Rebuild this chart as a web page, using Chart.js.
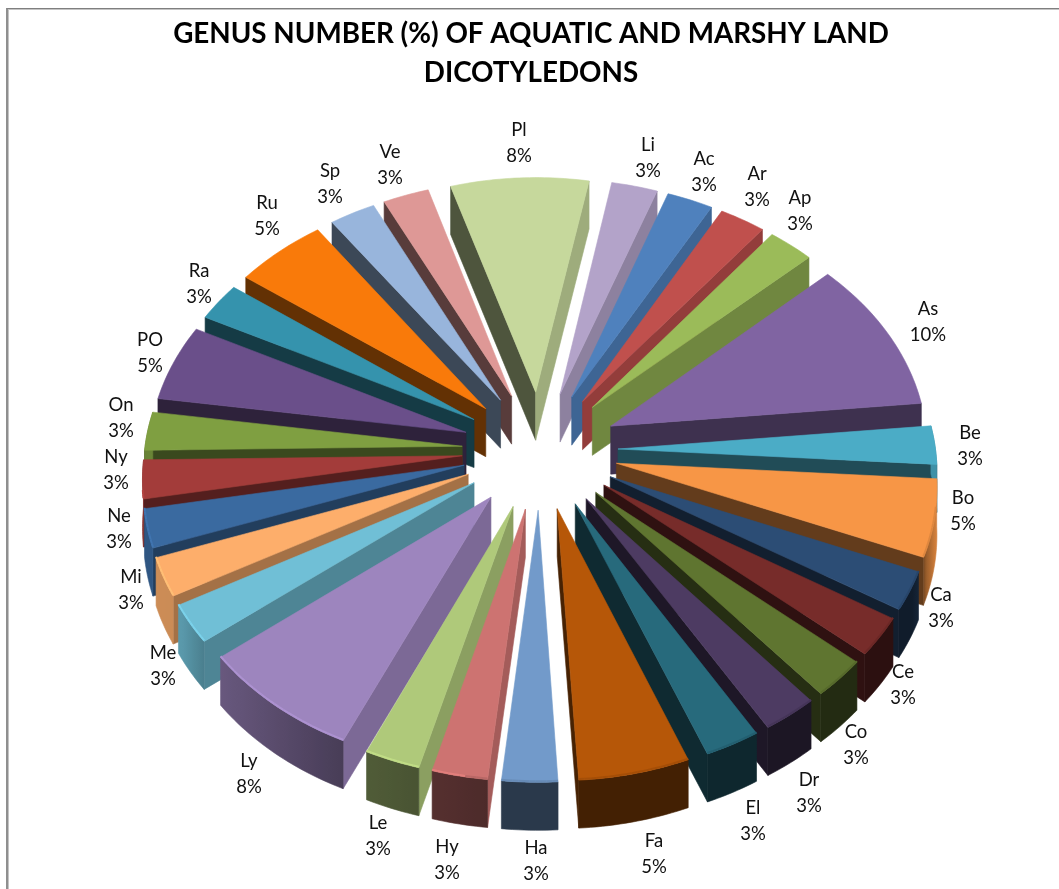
<!DOCTYPE html>
<html><head><meta charset="utf-8">
<style>
html,body{margin:0;padding:0;background:#fff;overflow:hidden}
#wrap{position:relative;width:1059px;height:889px}
canvas{position:absolute;left:0;top:0}
#ft{position:absolute;left:6px;top:8px;width:1053px;height:881px;box-sizing:border-box;border-top:1px solid #7f7f7f;border-left:2px solid #8f8f8f;box-shadow:inset 1px 1px 0 #c4c4c4;pointer-events:none}
</style>
<script src="https://cdn.jsdelivr.net/npm/chart.js@4"></script>
</head><body><div id="wrap"><canvas id="c" width="1059" height="889"></canvas><div id="ft"></div></div>
<script>
const titleLines = ['GENUS NUMBER (%) OF AQUATIC AND MARSHY LAND', 'DICOTYLEDONS'];
const categories = ['As','Be','Bo','Ca','Ce','Co','Dr','El','Fa','Ha','Hy','Le','Ly','Me','Mi','Ne','Ny','On','PO','Ra','Ru','Sp','Ve','Pl','Li','Ac','Ar','Ap'];
const genusCounts = [4,1,2,1,1,1,1,1,2,1,1,1,3,1,1,1,1,1,2,1,2,1,1,3,1,1,1,1];
const sliceColors = ['#8064A2','#4BACC6','#F79646','#2C4D75','#772C2A','#5F7530','#4D3B62','#276A7C','#B65708','#729ACA','#CD7371','#AFC97A','#9D85BE','#70BFD6','#FDAE6B','#3A6AA0','#A33C3A','#7F9F41','#6A4F8A','#3593AD','#F97A0A','#98B5DC','#DE9896','#C6D89C','#B3A3C9','#4F81BD','#C0504D','#9BBB59'];
// label centres relative to the pie centre (text layout only)
const labelOffsets = [[388,-128],[430,-4],[423,61],[401,158],[363,235],[316,295],[269,343],[213,371],[114,404],[-4,411],[-93,410],[-162,386],[-291,324],[-377,216],[-409,140],[-421,79],[-424,20],[-419,-32],[-390,-97],[-341,-166],[-273,-234],[-210,-266],[-150,-285],[-21,-307],[108,-292],[164,-278],[217,-263],[260,-239]];

const CX = 540, CY = 450, TILT = 0.757, KX = 0.00025, KY = 0.00025, DEPTH = 48;
function project(X, Y, z) {
  return [CX + X / (1 + KX * Y), CY - Y * TILT / (1 + KY * Y) + z];
}
function rgb(hex){ return [1,3,5].map(i => parseInt(hex.substr(i,2),16)); }
function shade(hex, f){ return 'rgb(' + rgb(hex).map(v => Math.round(Math.min(255, v * f))).join(',') + ')'; }
function lerpTable(tbl, a){
  a = ((a % 360) + 360) % 360;
  for (let i = 0; i < tbl.length - 1; i++) {
    if (a >= tbl[i][0] && a <= tbl[i+1][0]) {
      const t = (a - tbl[i][0]) / ((tbl[i+1][0] - tbl[i][0]) || 1);
      return tbl[i][1] + t * (tbl[i+1][1] - tbl[i][1]);
    }
  }
  return 0.4;
}
const wallLight = [[0,.4],[88,.4],[95,.8],[125,.78],[150,.66],[165,.55],[180,.45],[200,.4],[360,.38]];
const rimLight = [[0,.75],[95,.85],[108,.62],[115,.37],[185,.37],[205,.46],[232,.66],[240,.8],[300,.85],[360,.8]];
function poly(ctx, pts, fill){
  ctx.beginPath();
  pts.forEach((q,i) => i ? ctx.lineTo(q[0],q[1]) : ctx.moveTo(q[0],q[1]));
  ctx.closePath();
  ctx.fillStyle = fill; ctx.strokeStyle = fill; ctx.lineWidth = 0.6;
  ctx.fill(); ctx.stroke();
}
const pie3d = {
  id: 'pie3d',
  beforeDatasetsDraw(chart) {
    const ctx = chart.ctx, meta = chart.getDatasetMeta(0);
    const items = meta.data.map((arc, i) => {
      const a0 = arc.startAngle + Math.PI/2, a1 = arc.endAngle + Math.PI/2;
      return {arc, i, a0, a1, mid: (a0 + a1)/2};
    }).sort((p, q) => Math.cos(q.mid) - Math.cos(p.mid));
    ctx.save();
    for (const it of items) {
      const {arc, i, a0, a1, mid} = it;
      const col = sliceColors[i], R = arc.outerRadius, off = arc.options.offset;
      const ox = off * Math.sin(mid), oy = off * Math.cos(mid);
      const pt = (a, z) => project(ox + R * Math.sin(a), oy + R * Math.cos(a), z);
      const apex = z => project(ox, oy, z);
      const d0 = a0 * 180/Math.PI, d1 = a1 * 180/Math.PI;
      const n = Math.max(4, Math.ceil(d1 - d0));
      // radial walls: only those turned towards the viewer
      if (Math.cos(a0 - Math.PI/2) < 0.03) poly(ctx, [apex(0), pt(a0,0), pt(a0,DEPTH), apex(DEPTH)], shade(col, lerpTable(wallLight, d0 - 90)));
      if (Math.cos(a1 + Math.PI/2) < 0.03) poly(ctx, [apex(0), pt(a1,0), pt(a1,DEPTH), apex(DEPTH)], shade(col, lerpTable(wallLight, d1 + 90)));
      // outer rim with a smooth shading gradient
      if (Math.cos(mid) < 0.3) {
        const rimTop = [], rimBot = [];
        for (let k = 0; k <= n; k++) {
          const b = a0 + (a1 - a0) * k / n;
          rimTop.push(pt(b, 0)); rimBot.unshift(pt(b, DEPTH));
        }
        const x0 = rimTop[0][0], x1 = rimTop[n][0];
        const g = ctx.createLinearGradient(x0, 0, x1 === x0 ? x0 + 1 : x1, 0);
        for (let k = 0; k <= n; k++) {
          g.addColorStop(k / n, shade(col, lerpTable(rimLight, d0 + (d1 - d0) * k / n)));
        }
        poly(ctx, rimTop.concat(rimBot), g);
      }
      // top face
      const top = [apex(0)];
      for (let k = 0; k <= n; k++) top.push(pt(a0 + (a1 - a0) * k / n, 0));
      poly(ctx, top, col);
      // bevel along the rim edge
      for (let k = 0; k < n; k++) {
        const b0 = a0 + (a1 - a0) * k / n, b1 = a0 + (a1 - a0) * (k + 1) / n;
        const m = ((b0 + b1) / 2) * 180 / Math.PI % 360;
        if (m < 100 || m > 262) continue;
        const bev = m > 190 ? 1.1 : 0.9;
        const p0 = pt(b0, -1), p1 = pt(b1, -1);
        ctx.beginPath(); ctx.moveTo(p0[0], p0[1]); ctx.lineTo(p1[0], p1[1]);
        ctx.strokeStyle = shade(col, bev); ctx.lineWidth = 2; ctx.stroke();
      }
    }
    // data labels
    ctx.fillStyle = '#111';
    ctx.font = '18.5px Lato, "Open Sans", sans-serif';
    ctx.textAlign = 'center'; ctx.textBaseline = 'middle';
    const total = genusCounts.reduce((s, v) => s + v, 0);
    categories.forEach((name, i) => {
      const x = CX + labelOffsets[i][0], y = CY + labelOffsets[i][1];
      ctx.fillText(name, x, y - 13);
      ctx.fillText(Math.round(genusCounts[i] * 100 / total) + '%', x, y + 13);
    });
    ctx.restore();
    return false;
  }
};
new Chart(document.getElementById('c'), {
  type: 'pie',
  data: { labels: categories, datasets: [{ data: genusCounts, backgroundColor: sliceColors, borderWidth: 0, offset: 78 }] },
  options: {
    responsive: false, animation: false, rotation: 47.5,
    layout: { padding: { left: 3, right: 0, top: 0, bottom: 83 } },
    plugins: {
      legend: { display: false }, tooltip: { enabled: false },
      title: { display: true, text: titleLines, color: '#000', align: 'center',
        font: { family: 'Lato, "Open Sans", sans-serif', size: 27.8, weight: 'bold', lineHeight: 1.4 },
        padding: { top: 15, bottom: 0 } }
    }
  },
  plugins: [pie3d]
});
</script></body></html>
